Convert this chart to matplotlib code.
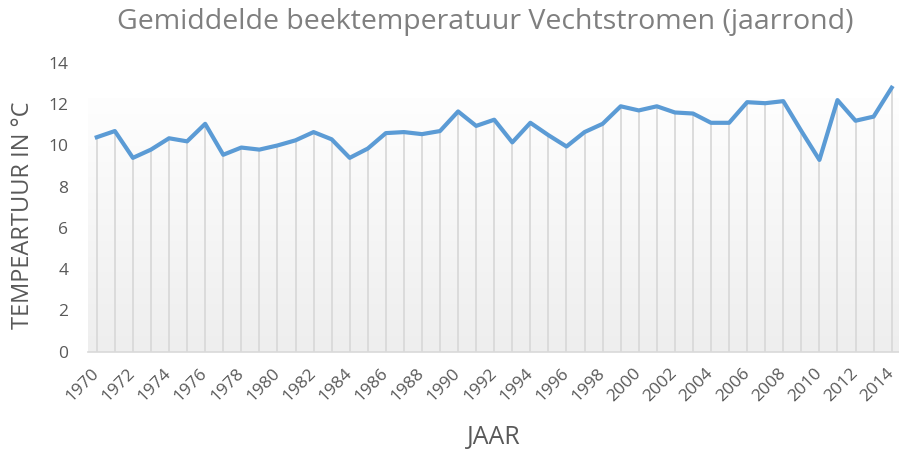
import numpy as np
import matplotlib.pyplot as plt
from matplotlib.colors import LinearSegmentedColormap

# Jaarlijkse gemiddelde beektemperatuur
jaren = list(range(1970, 2015))
temperatuur = [10.4, 10.7, 9.4, 9.8, 10.35, 10.2, 11.05, 9.55, 9.9, 9.8,
               10.0, 10.25, 10.65, 10.3, 9.4, 9.85, 10.6, 10.65, 10.55, 10.7,
               11.65, 10.95, 11.25, 10.15, 11.1, 10.5, 9.95, 10.65, 11.05, 11.9,
               11.7, 11.9, 11.6, 11.55, 11.1, 11.1, 12.1, 12.05, 12.15, 10.7,
               9.3, 12.2, 11.2, 11.4, 12.8]
y_ticks = [0, 2, 4, 6, 8, 10, 12, 14]
x_ticks = jaren[::2]

fig = plt.figure(figsize=(8.99, 4.49), dpi=100)
ax = fig.add_axes([0.0976, 0.2167, 0.9043, 0.643])

font = "Open Sans"
tekst_kleur = "#595959"

# verloop-achtergrond van het plotgebied
grad = np.linspace(0, 1, 256).reshape(-1, 1)
ax.imshow(grad, cmap=LinearSegmentedColormap.from_list("bg", ["#fefefe", "#eeeeee"]),
          aspect="auto", extent=(1969.5, 2014.5, 0, 12.3), origin="upper", zorder=0)

# valijnen naar de x-as
ax.vlines(jaren, 0, temperatuur, color="#d9d9d9", linewidth=1.3, zorder=1)
ax.plot(jaren, temperatuur, color="#5b9bd5", linewidth=3, zorder=3)

ax.set_xlim(1969.5, 2014.5)
ax.set_ylim(0, 14)
ax.set_yticks(y_ticks)
ax.set_xticks(x_ticks)
ax.set_xticklabels([str(j) for j in x_ticks], rotation=45, ha="right",
                   va="center", rotation_mode="anchor", fontsize=12.5,
                   color=tekst_kleur, family=font)
ax.set_yticklabels([str(v) for v in y_ticks], fontsize=12.5, color=tekst_kleur,
                   family=font)
ax.tick_params(axis="both", length=0)
ax.tick_params(axis="x", pad=14)
ax.tick_params(axis="y", pad=14)

for s in ["top", "right", "left"]:
    ax.spines[s].set_visible(False)
ax.spines["bottom"].set_color("#d9d9d9")
ax.spines["bottom"].set_linewidth(1.2)

fig.text(0.54, 0.951, "Gemiddelde beektemperatuur Vechtstromen (jaarrond)",
         ha="center", va="center", fontsize=20.5, color="#7f7f7f", family=font)
fig.text(0.026, 0.521, "TEMPEARTUUR IN °C", rotation=90, ha="center",
         va="center", fontsize=17, color=tekst_kleur, family=font)
fig.text(0.549, 0.025, "JAAR", ha="center", va="center", fontsize=18,
         color=tekst_kleur, family=font)

fig.savefig("out.png", dpi=100)
